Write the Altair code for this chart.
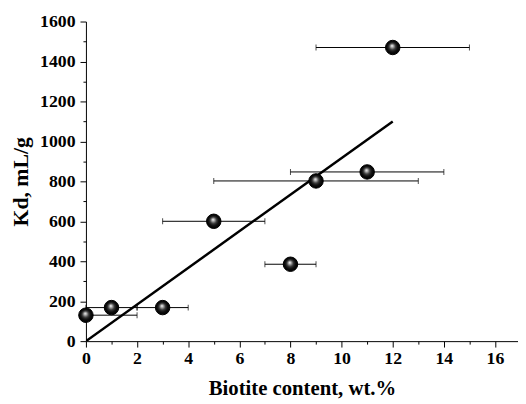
import altair as alt
import pandas as pd

# Data
biotite = [0, 1, 3, 5, 8, 9, 11, 12]
kd = [130, 168, 168, 600, 385, 802, 847, 1470]
x_low = [0, 0, 2, 3, 7, 5, 8, 9]
x_high = [2, 2, 4, 7, 9, 13, 14, 15]

fit_x = [0, 12]
fit_y = [0, 1100]

y_major = [0, 200, 400, 600, 800, 1000, 1200, 1400, 1600]
y_minor = [100, 300, 500, 700, 900, 1100, 1300, 1500]
x_major = [0, 2, 4, 6, 8, 10, 12, 14, 16]
x_minor = [1, 3, 5, 7, 9, 11, 13, 15]

df = pd.DataFrame({"x": biotite, "kd": kd, "lo": x_low, "hi": x_high})
fit = pd.DataFrame({"x": fit_x, "kd": fit_y})
minor_df = pd.DataFrame({"x": [x_minor[0]], "kd": [y_minor[0]]})

FONT = "Liberation Serif"
xscale = alt.Scale(domain=[0, 16.9], nice=False, zero=False)
yscale = alt.Scale(domain=[0, 1600], nice=False)

x_axis = alt.Axis(values=x_major, tickSize=6, labelPadding=3, format="d", labelFlush=False,
                  title="Biotite content, wt.%", titleFontSize=21, titlePadding=10,
                  orient="bottom", grid=False)
y_axis = alt.Axis(values=y_major, tickSize=6, labelPadding=5, format="d", labelFlush=False,
                  title="Kd, mL/g", titleFontSize=22, titlePadding=7, orient="left", grid=False)

def X(field):
    return alt.X(field, scale=xscale, axis=x_axis, title="Biotite content, wt.%")

def Y(field):
    return alt.Y(field, scale=yscale, axis=y_axis, title="Kd, mL/g")

x_min = alt.X("x:Q", scale=xscale,
              axis=alt.Axis(values=x_minor, tickSize=3, labels=False, domain=False, grid=False,
                            title=None, orient="bottom"))
y_min = alt.Y("kd:Q", scale=yscale,
              axis=alt.Axis(values=y_minor, tickSize=3, labels=False, domain=False, grid=False,
                            title=None, orient="left"))

bars = alt.Chart(df).mark_rule(color="#000", strokeWidth=1).encode(
    x=X("lo:Q"), x2="hi:Q", y=Y("kd:Q"))

caps_lo = alt.Chart(df).mark_tick(color="#000", orient="vertical", size=6, thickness=1).encode(
    x=X("lo:Q"), y=Y("kd:Q"))
caps_hi = alt.Chart(df).mark_tick(color="#000", orient="vertical", size=6, thickness=1).encode(
    x=X("hi:Q"), y=Y("kd:Q"))

line = alt.Chart(fit).mark_line(color="#000", strokeWidth=2.5, clip=True).encode(
    x=X("x:Q"), y=Y("kd:Q"))

grad = alt.RadialGradient(
    gradient="radial",
    stops=[alt.GradientStop(offset=0, color="#ffffff"),
           alt.GradientStop(offset=0.18, color="#b0b0b0"),
           alt.GradientStop(offset=0.45, color="#3a3a3a"),
           alt.GradientStop(offset=0.7, color="#0e0e0e"),
           alt.GradientStop(offset=1, color="#000000")],
    x1=0.45, y1=0.38, r1=0, x2=0.5, y2=0.5, r2=0.5)

pts = alt.Chart(df).mark_point(filled=True, fill=grad, stroke="#000", strokeWidth=1,
                               opacity=1, size=215, shape="circle", clip=False).encode(
    x=X("x:Q"), y=Y("kd:Q"))

minor = alt.Chart(minor_df).mark_point(opacity=0).encode(x=x_min, y=y_min)

main = alt.layer(bars, caps_lo, caps_hi, line, pts)

chart = alt.layer(main, minor).resolve_axis(x="independent", y="independent").properties(
    width=438, height=324,
    autosize=alt.AutoSizeParams(type="none"),
    padding={"left": 79, "top": 11, "right": 0, "bottom": 61},
).configure_view(stroke=None).configure_axis(
    domainWidth=1, tickWidth=1, domainColor="#000", tickColor="#000",
    labelFont=FONT, labelFontSize=18, labelFontWeight="bold", labelColor="#000",
    titleFont=FONT, titleFontWeight="bold", titleColor="#000")

chart.save("out.html", embed_options={"renderer": "svg", "actions": False})
